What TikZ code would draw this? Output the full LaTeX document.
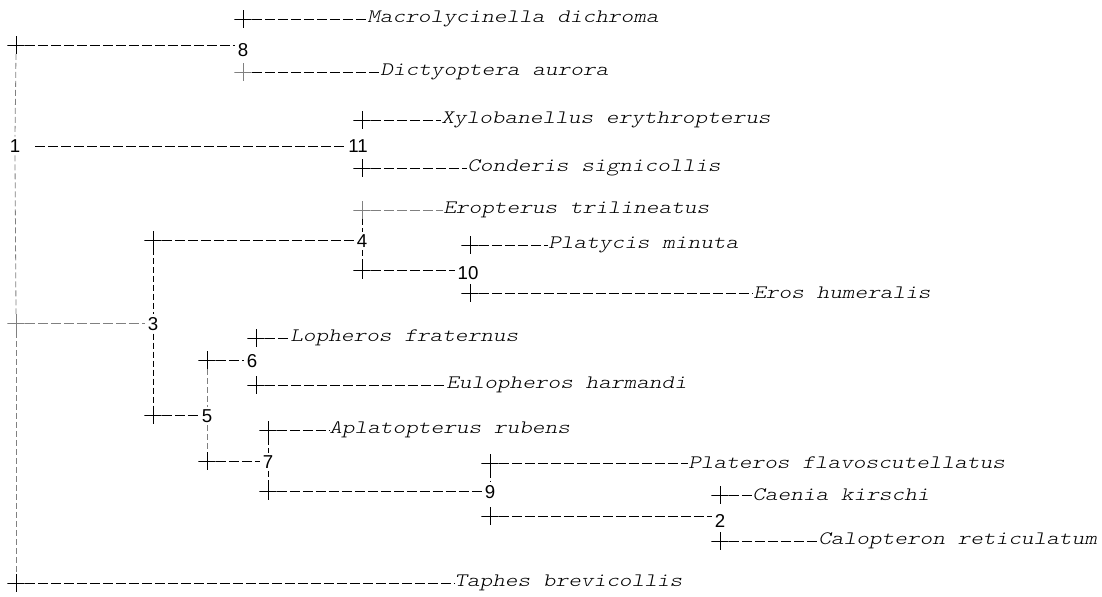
\documentclass[tikz,border=0pt]{standalone}
\usepackage{fontspec}
\setmainfont{Liberation Sans}
\newfontfamily\leaffont[FakeStretch=1.27]{lmmonolt10-oblique.otf}

\begin{document}
\begin{tikzpicture}[x=0.75pt,y=-0.75pt,
    branch/.style={dash pattern=on 7.5pt off 2.25pt, line width=0.75pt},
    stem/.style={dash pattern=on 4.5pt off 2.25pt, line width=0.6pt, gray},
    plusmark/.style={minimum size=13pt, inner sep=0pt,
      path picture={\draw[solid, line width=0.65pt, #1]
        (path picture bounding box.north) -- (path picture bounding box.south)
        (path picture bounding box.west) -- (path picture bounding box.east);}},
    plusmark/.default=black,
    clade/.style={inner sep=2pt, font=\fontsize{14}{14}\selectfont},
    taxon/.style={anchor=west, inner sep=0pt, font=\leaffont\fontsize{14.25}{16}\selectfont}]
    \useasboundingbox (0,0) rectangle (1102,596);
    % root
    \node[plusmark] (cA) at (16,45) {};
    \node[plusmark=gray] (cB) at (16,323) {};
    \node[plusmark] (cC) at (16,583) {};
    \node[clade] (n1) at (15,146) {1};
    % internal nodes
    \node[clade] (n8) at (243,50) {8};
    \node[clade] (n11) at (358,146) {11};
    \node[clade] (n3) at (153,324) {3};
    \node[clade] (n4) at (362,241) {4};
    \node[clade] (n10) at (468,273) {10};
    \node[clade] (n5) at (207,416) {5};
    \node[clade] (n6) at (252,361) {6};
    \node[clade] (n7) at (268,462) {7};
    \node[clade] (n9) at (490,492) {9};
    \node[clade] (n2) at (720,521) {2};
    % crosses
    \node[plusmark] (c8a) at (243,19) {};
    \node[plusmark=gray] (c8b) at (243,72) {};
    \node[plusmark] (c11a) at (362,120) {};
    \node[plusmark] (c11b) at (362,168) {};
    \node[plusmark] (c3a) at (153,240) {};
    \node[plusmark] (c3b) at (153,415) {};
    \node[plusmark=gray] (c4a) at (362,210) {};
    \node[plusmark] (c4b) at (362,270) {};
    \node[plusmark] (c10a) at (470,245) {};
    \node[plusmark] (c10b) at (470,293) {};
    \node[plusmark] (c5a) at (207,360) {};
    \node[plusmark] (c5b) at (207,461) {};
    \node[plusmark] (c6a) at (256,338) {};
    \node[plusmark] (c6b) at (256,385) {};
    \node[plusmark] (c7a) at (268,430) {};
    \node[plusmark] (c7b) at (268,491) {};
    \node[plusmark] (c9a) at (490,463) {};
    \node[plusmark] (c9b) at (490,516) {};
    \node[plusmark] (c2a) at (720,495) {};
    \node[plusmark] (c2b) at (720,541) {};
    % taxa
    \node[taxon] (macro) at (367,19) {Macrolycinella dichroma};
    \node[taxon] (dicty) at (380,72) {Dictyoptera aurora};
    \node[taxon] (xylo) at (441,120) {Xylobanellus erythropterus};
    \node[taxon] (conde) at (467,168) {Conderis signicollis};
    \node[taxon] (eropt) at (443,210) {Eropterus trilineatus};
    \node[taxon] (platy) at (548,245) {Platycis minuta};
    \node[taxon] (eros) at (753,293) {Eros humeralis};
    \node[taxon] (lophe) at (290,338) {Lopheros fraternus};
    \node[taxon] (eulop) at (446,385) {Eulopheros harmandi};
    \node[taxon] (aplat) at (329,430) {Aplatopterus rubens};
    \node[taxon] (plate) at (688,463) {Plateros flavoscutellatus};
    \node[taxon] (caeni) at (752,495) {Caenia kirschi};
    \node[taxon] (calop) at (818,541) {Calopteron reticulatum};
    \node[taxon] (taphe) at (454,583) {Taphes brevicollis};
    % verticals
    \draw[stem] (cA.south) -- (n1.north);
    \draw[stem] (n1.south) -- (cB.north);
    \draw[stem] (cB.south) -- (cC.north);
    \draw[stem, black] (c3a.south) -- (n3.north);
    \draw[stem, black] (n3.south) -- (c3b.north);
    \draw[stem, black] (c4a.south) -- (n4.north);
    \draw[stem, black] (n4.south) -- (c4b.north);
    \draw[stem] (c5a.south) -- (n5.north);
    \draw[stem] (n5.south) -- (c5b.north);
    \draw[stem, black] (c7a.south) -- (n7.north);
    \draw[stem, black] (n7.south) -- (c7b.north);
    \draw[stem, black] (c9a.south) -- (n9.north);
    % branches to internal nodes
    \draw[branch] (cA.east) -- (cA -| n8.west);
    \draw[branch, shorten <=9pt] (n1.east) -- (n11.west);
    \draw[branch, gray] (cB.east) -- (cB -| n3.west);
    \draw[branch] (c3a.east) -- (c3a -| n4.west);
    \draw[branch] (c4b.east) -- (c4b -| n10.west);
    \draw[branch] (c3b.east) -- (c3b -| n5.west);
    \draw[branch] (c5a.east) -- (c5a -| n6.west);
    \draw[branch] (c5b.east) -- (c5b -| n7.west);
    \draw[branch] (c7b.east) -- (c7b -| n9.west);
    \draw[branch] (c9b.east) -- (c9b -| n2.west);
    % branches to taxa
    \draw[branch] (c8a.east) -- (macro.west);
    \draw[branch] (c8b.east) -- (dicty.west);
    \draw[branch] (c11a.east) -- (xylo.west);
    \draw[branch] (c11b.east) -- (conde.west);
    \draw[branch, gray] (c4a.east) -- (eropt.west);
    \draw[branch] (c10a.east) -- (platy.west);
    \draw[branch] (c10b.east) -- (eros.west);
    \draw[branch] (c6a.east) -- (lophe.west);
    \draw[branch] (c6b.east) -- (eulop.west);
    \draw[branch] (c7a.east) -- (aplat.west);
    \draw[branch] (c9a.east) -- (plate.west);
    \draw[branch] (c2a.east) -- (caeni.west);
    \draw[branch] (c2b.east) -- (calop.west);
    \draw[branch] (cC.east) -- (taphe.west);
\end{tikzpicture}
\end{document}
